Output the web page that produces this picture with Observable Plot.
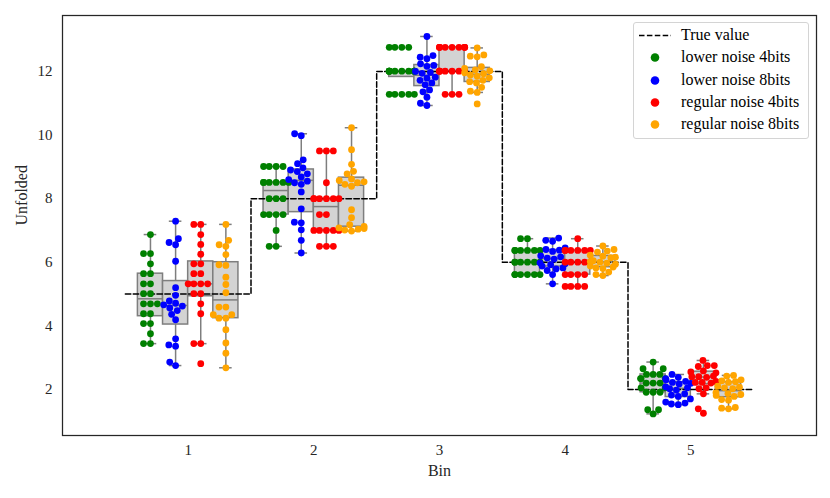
<!DOCTYPE html>
<html><head><meta charset="utf-8">
<script src="https://cdn.jsdelivr.net/npm/d3@7"></script>
<script src="https://cdn.jsdelivr.net/npm/@observablehq/plot@0.6"></script>
<style>
body{margin:0;background:#fff;}
#wrap{position:relative;width:830px;height:498px;font-family:"Liberation Serif",serif;}
#legend{position:absolute;left:633px;top:22px;width:174px;height:115px;border:1px solid #d4d4d4;border-radius:3px;background:rgba(255,255,255,0.85);font-size:16px;color:#000;}
#legend .row{position:absolute;left:0;height:20px;line-height:20px;white-space:nowrap;}
#legend svg{position:absolute;left:4px;top:0;}
#legend span{position:absolute;left:47px;top:0;}
</style></head><body><div id="wrap"></div>
<script>
const bins = [1, 2, 3, 4, 5];
const hues = ["lower noise 4bits", "lower noise 8bits", "regular noise 4bits", "regular noise 8bits"];
const hueColors = ["green", "blue", "red", "orange"];
const trueValue = [5, 8, 12, 6, 2];
const yTicks = [2, 4, 6, 8, 10, 12];

const lowerNoise4bits = [
  [6.87, 6.27, 6.27, 5.95, 5.64, 5.64, 5.32, 5.32, 5.01, 5.01, 4.69, 4.69, 4.69, 4.38, 4.38, 4.07, 4.07, 3.75, 3.44, 3.44],
  [9.01, 9.01, 9.01, 9.01, 8.51, 8.51, 8.51, 8.51, 8.51, 8.51, 8.0, 8.0, 8.0, 7.5, 7.5, 7.5, 7.5, 7.0, 6.5, 6.5],
  [12.76, 12.76, 12.76, 12.76, 12.01, 12.01, 12.01, 12.01, 12.01, 12.01, 12.01, 12.01, 12.01, 12.01, 12.01, 11.28, 11.28, 11.28, 11.28, 11.28],
  [6.74, 6.74, 6.37, 6.37, 6.37, 6.37, 6.37, 6.37, 6.0, 6.0, 6.0, 6.0, 6.0, 6.0, 5.61, 5.61, 5.61, 5.61, 5.61, 5.61],
  [2.86, 2.65, 2.65, 2.47, 2.47, 2.47, 2.34, 2.34, 2.34, 2.20, 2.20, 2.20, 2.05, 2.05, 1.91, 1.91, 1.91, 1.36, 1.36, 1.23]
];
const lowerNoise8bits = [
  [7.29, 6.74, 6.62, 6.55, 6.03, 5.20, 4.96, 4.78, 4.71, 4.66, 4.62, 4.56, 4.48, 4.36, 4.19, 3.59, 3.40, 3.36, 2.86, 2.75],
  [10.04, 9.98, 9.22, 9.10, 8.97, 8.90, 8.85, 8.78, 8.68, 8.60, 8.55, 8.50, 8.45, 8.21, 7.68, 7.26, 7.24, 7.02, 6.69, 6.29],
  [13.10, 12.50, 12.45, 12.40, 12.24, 12.19, 12.16, 12.00, 11.97, 11.94, 11.82, 11.79, 11.72, 11.64, 11.58, 11.42, 11.36, 11.19, 11.00, 10.93],
  [6.76, 6.69, 6.66, 6.45, 6.40, 6.38, 6.34, 6.20, 6.17, 6.13, 6.10, 5.98, 5.95, 5.92, 5.88, 5.82, 5.79, 5.74, 5.61, 5.32],
  [2.47, 2.38, 2.34, 2.30, 2.25, 2.22, 2.19, 2.17, 2.08, 2.05, 2.02, 1.98, 1.86, 1.82, 1.78, 1.70, 1.60, 1.57, 1.54, 1.52]
];
const regularNoise4bits = [
  [7.19, 7.19, 6.87, 6.56, 6.25, 5.95, 5.95, 5.64, 5.64, 5.32, 5.32, 5.32, 5.32, 5.01, 5.01, 4.69, 4.38, 3.44, 3.44, 2.81],
  [9.5, 9.5, 9.5, 8.5, 8.0, 8.0, 8.0, 8.0, 8.0, 8.0, 7.5, 7.5, 7.0, 7.0, 7.0, 7.0, 7.0, 6.5, 6.5, 6.5],
  [12.76, 12.76, 12.76, 12.76, 12.76, 12.76, 12.76, 12.76, 12.76, 12.01, 12.01, 12.01, 12.01, 12.01, 12.01, 12.01, 12.01, 11.28, 11.28, 11.28],
  [6.74, 6.37, 6.37, 6.37, 6.37, 6.37, 6.37, 6.0, 6.0, 6.0, 6.0, 6.0, 5.61, 5.61, 5.61, 5.61, 5.24, 5.24, 5.24, 5.24],
  [2.91, 2.75, 2.75, 2.72, 2.58, 2.55, 2.52, 2.42, 2.40, 2.40, 2.38, 2.25, 2.22, 2.22, 2.20, 2.05, 2.02, 1.86, 1.39, 1.25]
];
const regularNoise8bits = [
  [7.19, 6.69, 6.55, 6.50, 6.24, 5.92, 5.90, 5.53, 5.30, 5.04, 4.59, 4.59, 4.35, 4.35, 4.24, 4.24, 3.88, 3.46, 3.14, 2.68],
  [10.23, 9.54, 9.08, 8.86, 8.78, 8.62, 8.57, 8.53, 8.50, 8.45, 8.39, 7.65, 7.40, 7.18, 7.13, 7.08, 7.06, 7.04, 7.01, 6.98],
  [12.74, 12.52, 12.48, 12.46, 12.15, 12.10, 12.05, 12.02, 11.96, 11.93, 11.89, 11.85, 11.80, 11.72, 11.68, 11.64, 11.50, 11.38, 11.34, 10.98],
  [6.51, 6.40, 6.35, 6.32, 6.22, 6.19, 6.16, 6.14, 6.05, 6.02, 6.00, 5.97, 5.94, 5.88, 5.85, 5.82, 5.80, 5.69, 5.61, 5.58],
  [2.44, 2.42, 2.30, 2.27, 2.24, 2.22, 2.10, 2.07, 2.05, 2.02, 1.90, 1.87, 1.84, 1.81, 1.78, 1.68, 1.66, 1.43, 1.41, 1.39]
];
const series = [lowerNoise4bits, lowerNoise8bits, regularNoise4bits, regularNoise8bits];

// layout
const W = 830, H = 498, mL = 62, mR = 14, mT = 15, mB = 63;
const xDomain = [0, 6], yDomain = [0.55, 13.76];
const kx = (W - mL - mR) / (xDomain[1] - xDomain[0]);
const ky = (H - mT - mB) / (yDomain[1] - yDomain[0]);
const boxW = 0.8 / hues.length;
const R = 3.3;

// seaborn-like beeswarm (pixel space), then gutters
function swarm(values, r, half) {
  const order = d3.range(values.length).sort((a, b) => values[a] - values[b]);
  const placed = [], out = new Array(values.length), d = 2 * r;
  for (const i of order) {
    const y = values[i] * ky;
    const nb = placed.filter(p => Math.abs(p.y - y) < d);
    const cands = [0];
    let leftFirst = true;
    for (const p of nb) {
      const dy = y - p.y;
      const dx = Math.sqrt(Math.max(0, d * d - dy * dy)) * 1.05;
      const cl = p.x - dx, cr = p.x + dx;
      if (leftFirst) cands.push(cl, cr); else cands.push(cr, cl);
      leftFirst = !leftFirst;
    }
    const sorted = cands.map((c, k) => [c, k]).sort((a, b) => Math.abs(a[0]) - Math.abs(b[0]) || a[1] - b[1]).map(a => a[0]);
    let x = sorted[sorted.length - 1];
    for (const c of sorted) {
      if (nb.every(p => (p.x - c) ** 2 + (p.y - y) ** 2 >= d * d - 1e-6)) { x = c; break; }
    }
    placed.push({x, y});
    out[i] = Math.max(-half, Math.min(half, x));
  }
  return out;
}

const points = [], stats = [];
hues.forEach((hue, h) => {
  bins.forEach((b, bi) => {
    const vals = series[h][bi];
    const cx = b + (h - (hues.length - 1) / 2) * boxW;
    const offs = swarm(vals, R, (boxW / 2) * kx);
    vals.forEach((v, i) => points.push({hue, value: v, x: cx + offs[i] / kx}));
    const s = vals.slice().sort(d3.ascending);
    const q1 = d3.quantile(s, 0.25), med = d3.quantile(s, 0.5), q3 = d3.quantile(s, 0.75);
    const iqr = q3 - q1;
    const lo = d3.min(s.filter(v => v >= q1 - 1.5 * iqr));
    const hi = d3.max(s.filter(v => v <= q3 + 1.5 * iqr));
    stats.push({cx, x1: cx - boxW / 2, x2: cx + boxW / 2, c1: cx - boxW / 4, c2: cx + boxW / 4, q1, med, q3, lo, hi});
  });
});

const stepData = bins.map((b, i) => ({x: b - 0.5, y: trueValue[i]}))
  .concat([{x: bins[bins.length - 1] + 0.5, y: trueValue[trueValue.length - 1]}]);

const boxStroke = "#7e7e7e";
const chart = Plot.plot({
  width: W, height: H,
  marginLeft: mL, marginRight: mR, marginTop: mT, marginBottom: mB,
  style: {fontFamily: "'Liberation Serif', serif", fontSize: "15px", color: "#262626", background: "#fff"},
  x: {domain: xDomain},
  y: {domain: yDomain},
  color: {domain: hues, range: hueColors},
  marks: [
    Plot.ruleX(stats, {x: "cx", y1: "q1", y2: "lo", stroke: boxStroke, strokeWidth: 1.5}),
    Plot.ruleX(stats, {x: "cx", y1: "q3", y2: "hi", stroke: boxStroke, strokeWidth: 1.5}),
    Plot.ruleY(stats, {y: "lo", x1: "c1", x2: "c2", stroke: boxStroke, strokeWidth: 1.5}),
    Plot.ruleY(stats, {y: "hi", x1: "c1", x2: "c2", stroke: boxStroke, strokeWidth: 1.5}),
    Plot.rect(stats, {x1: "x1", x2: "x2", y1: "q1", y2: "q3", fill: "#d3d3d3", stroke: boxStroke, strokeWidth: 1.5}),
    Plot.ruleY(stats, {y: "med", x1: "x1", x2: "x2", stroke: boxStroke, strokeWidth: 1.5}),
    Plot.line(stepData, {x: "x", y: "y", curve: "step-after", stroke: "black", strokeWidth: 1.5, strokeDasharray: "5.5,2.4"}),
    Plot.dot(points, {x: "x", y: "value", fill: "hue", r: R + 0.1, stroke: "none"}),
    Plot.axisY({ticks: yTicks, tickSize: 0, tickPadding: 10, fontSize: 15, label: null}),
    Plot.axisX({ticks: bins, tickFormat: d3.format("d"), tickSize: 0, tickPadding: 9, fontSize: 15, label: null}),
    Plot.text(["Bin"], {frameAnchor: "bottom", dy: 40, fontSize: 16, fill: "#262626"}),
    Plot.text(["Unfolded"], {frameAnchor: "left", dx: -41, rotate: -90, fontSize: 16, fill: "#262626"}),
    Plot.frame({stroke: "#262626", strokeWidth: 1.25})
  ]
});
const wrap = document.getElementById("wrap");
wrap.appendChild(chart);

// legend
const leg = document.createElement("div");
leg.id = "legend";
const entries = [{label: "True value", type: "line"}].concat(hues.map((h, i) => ({label: h, type: "dot", color: hueColors[i]})));
entries.forEach((e, i) => {
  const row = document.createElement("div");
  row.className = "row";
  row.style.top = (2 + i * 22.3) + "px";
  row.style.width = "172px";
  const sw = e.type === "line"
    ? `<svg width="36" height="20"><line x1="1" x2="33" y1="10.5" y2="10.5" stroke="black" stroke-width="1.5" stroke-dasharray="5.5,2.4"/></svg>`
    : `<svg width="36" height="20"><circle cx="17" cy="10.5" r="4.3" fill="${e.color}"/></svg>`;
  row.innerHTML = sw + `<span>${e.label}</span>`;
  leg.appendChild(row);
});
wrap.appendChild(leg);
</script>
</body></html>
